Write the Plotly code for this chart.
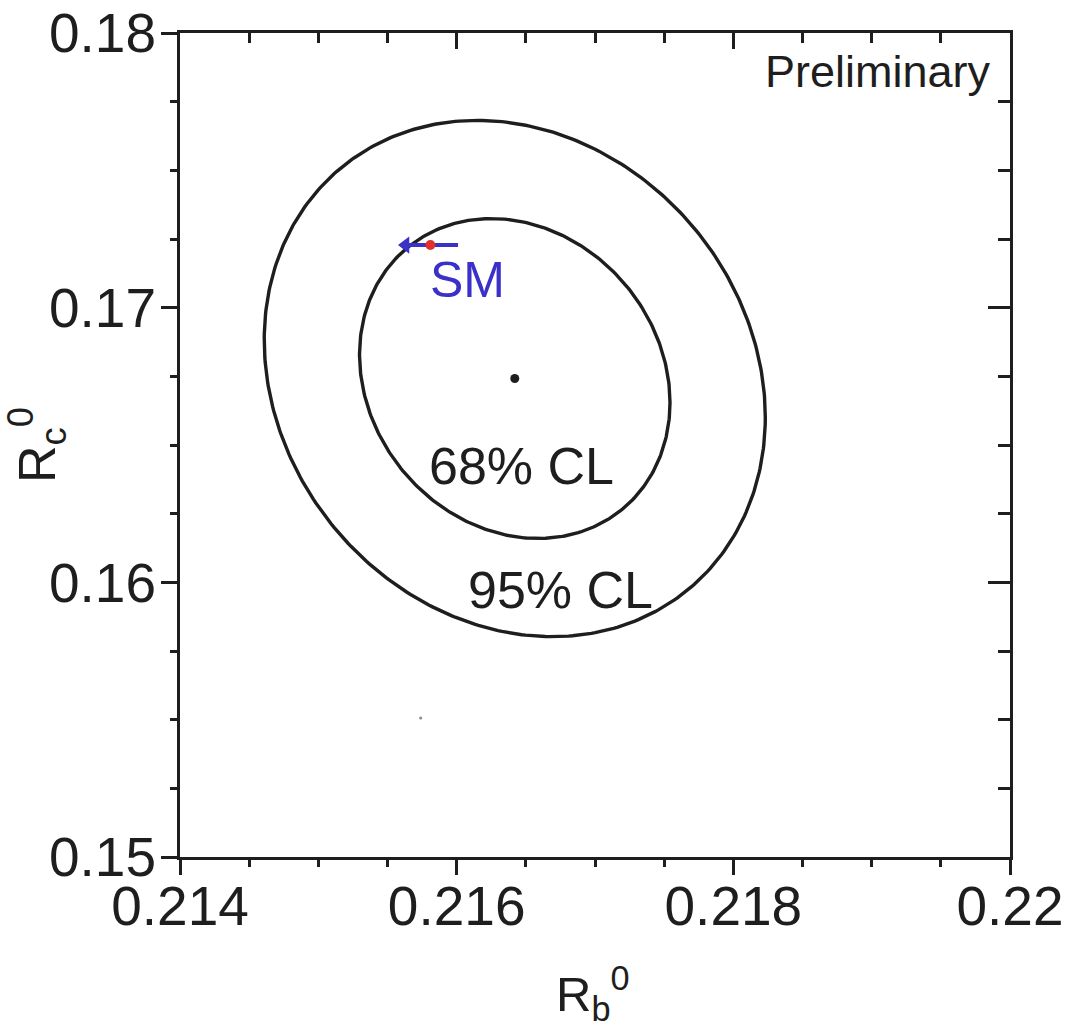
import numpy as np
import plotly.graph_objects as go

# ---- data ----
fit_center = [0.21642, 0.16742]          # (Rb0, Rc0) best fit
fit_sigma = [0.00074, 0.00384]           # sigma(Rb0), sigma(Rc0)
fit_rho = -0.15                          # correlation
cl_levels = [2.30, 5.99]                 # delta chi2 for 68% / 95% CL (2 dof)
cl_labels = ["68% CL", "95% CL"]
cl_label_pos_x = [0.21647, 0.21675]
cl_label_pos_y = [0.16424, 0.15972]

sm_line_x = [0.21563, 0.21601]           # SM prediction (mt range)
sm_line_y = [0.17228, 0.17228]
sm_point_x = [0.21581]
sm_point_y = [0.17228]
sm_label_pos = [0.21608, 0.17101]

artifact_x = [0.21574]
artifact_y = [0.15506]

x_range = [0.214, 0.22]
y_range = [0.15, 0.18]
x_tickvals = [0.214, 0.216, 0.218, 0.22]
x_ticktext = ["0.214", "0.216", "0.218", "0.22"]
y_tickvals = [0.15, 0.16, 0.17, 0.18]
y_ticktext = ["0.15", "0.16", "0.17", "0.18"]

FONT = "Liberation Sans, Arial, Helvetica, sans-serif"
INK = "#1e1e1e"
BLUE = "#3b30c8"

fig = go.Figure()

theta = np.linspace(0, 2 * np.pi, 400)
for lvl in cl_levels:
    k = np.sqrt(lvl)
    ex = fit_center[0] + k * fit_sigma[0] * np.cos(theta)
    ey = fit_center[1] + k * fit_sigma[1] * (fit_rho * np.cos(theta) + np.sqrt(1 - fit_rho ** 2) * np.sin(theta))
    fig.add_trace(go.Scatter(x=ex, y=ey, mode="lines", line=dict(color=INK, width=3.4),
                             hoverinfo="skip", showlegend=False))

fig.add_trace(go.Scatter(x=[fit_center[0]], y=[fit_center[1]], mode="markers",
                         marker=dict(color=INK, size=9), showlegend=False))

fig.add_trace(go.Scatter(x=sm_line_x, y=sm_line_y, mode="lines",
                         line=dict(color=BLUE, width=4), showlegend=False))
fig.add_trace(go.Scatter(x=[sm_line_x[0]], y=[sm_line_y[0]], mode="markers",
                         marker=dict(color=BLUE, size=15, symbol="triangle-left"),
                         showlegend=False))
fig.add_trace(go.Scatter(x=sm_point_x, y=sm_point_y, mode="markers",
                         marker=dict(color="#e0302c", size=10), showlegend=False))
fig.add_trace(go.Scatter(x=artifact_x, y=artifact_y, mode="markers",
                         marker=dict(color="#888888", size=3), showlegend=False))

# dummy trace for mirrored (top/right) axes
fig.add_trace(go.Scatter(x=x_range, y=y_range, xaxis="x2", yaxis="y2", mode="markers",
                         marker=dict(opacity=0), hoverinfo="skip", showlegend=False))

for txt, px, py in zip(cl_labels, cl_label_pos_x, cl_label_pos_y):
    fig.add_annotation(x=px, y=py, text=txt, showarrow=False,
                       font=dict(family=FONT, size=52, color=INK))
fig.add_annotation(x=sm_label_pos[0], y=sm_label_pos[1], text="SM", showarrow=False,
                   font=dict(family=FONT, size=50, color=BLUE))
fig.add_annotation(x=0.979, y=0.953, xref="paper", yref="paper", text="Preliminary",
                   showarrow=False, xanchor="right", yanchor="middle",
                   font=dict(family=FONT, size=45, color=INK))
# x-axis title
fig.add_annotation(x=0.497, y=-0.121, xref="paper", yref="paper", text="R<sub>b</sub><sup>0</sup>",
                   showarrow=False, xanchor="center", yanchor="top",
                   font=dict(family=FONT, size=49, color=INK))

axis_common = dict(showline=True, linecolor=INK, linewidth=3, showgrid=False, zeroline=False,
                   tickcolor=INK, tickwidth=2.5, automargin=False)

fig.update_layout(
    width=1066, height=1028,
    margin=dict(l=180, r=56, t=33, b=171),
    paper_bgcolor="white", plot_bgcolor="white",
    font=dict(family=FONT, color=INK),
    xaxis=dict(range=x_range, tickvals=x_tickvals, ticktext=x_ticktext, ticks="outside", ticklen=15,
               tickfont=dict(size=55, family=FONT, color=INK), ticklabelstandoff=-16,
               minor=dict(dtick=0.0005, tick0=0.214, ticks="outside", ticklen=7, tickcolor=INK, tickwidth=2.5),
               **axis_common),
    yaxis=dict(range=y_range, tickvals=y_tickvals, ticktext=y_ticktext, ticks="outside", ticklen=16,
               tickfont=dict(size=55, family=FONT, color=INK), ticklabelstandoff=-6,
               minor=dict(dtick=0.0025, tick0=0.15, ticks="outside", ticklen=7, tickcolor=INK, tickwidth=2.5),
               title=dict(text="R<sub>c</sub><sup>0</sup>", font=dict(size=52, family=FONT, color=INK), standoff=22),
               **axis_common),
    xaxis2=dict(range=x_range, overlaying="x", side="top", anchor="y2", tickvals=x_tickvals,
                showticklabels=False, ticks="inside", ticklen=16,
                minor=dict(dtick=0.0005, tick0=0.214, ticks="inside", ticklen=10, tickcolor=INK, tickwidth=2.5),
                **axis_common),
    yaxis2=dict(range=y_range, overlaying="y", side="right", anchor="x2", tickvals=y_tickvals,
                showticklabels=False, ticks="inside", ticklen=22,
                minor=dict(dtick=0.0025, tick0=0.15, ticks="inside", ticklen=12, tickcolor=INK, tickwidth=2.5),
                **axis_common),
)

fig.write_html("out.html")
